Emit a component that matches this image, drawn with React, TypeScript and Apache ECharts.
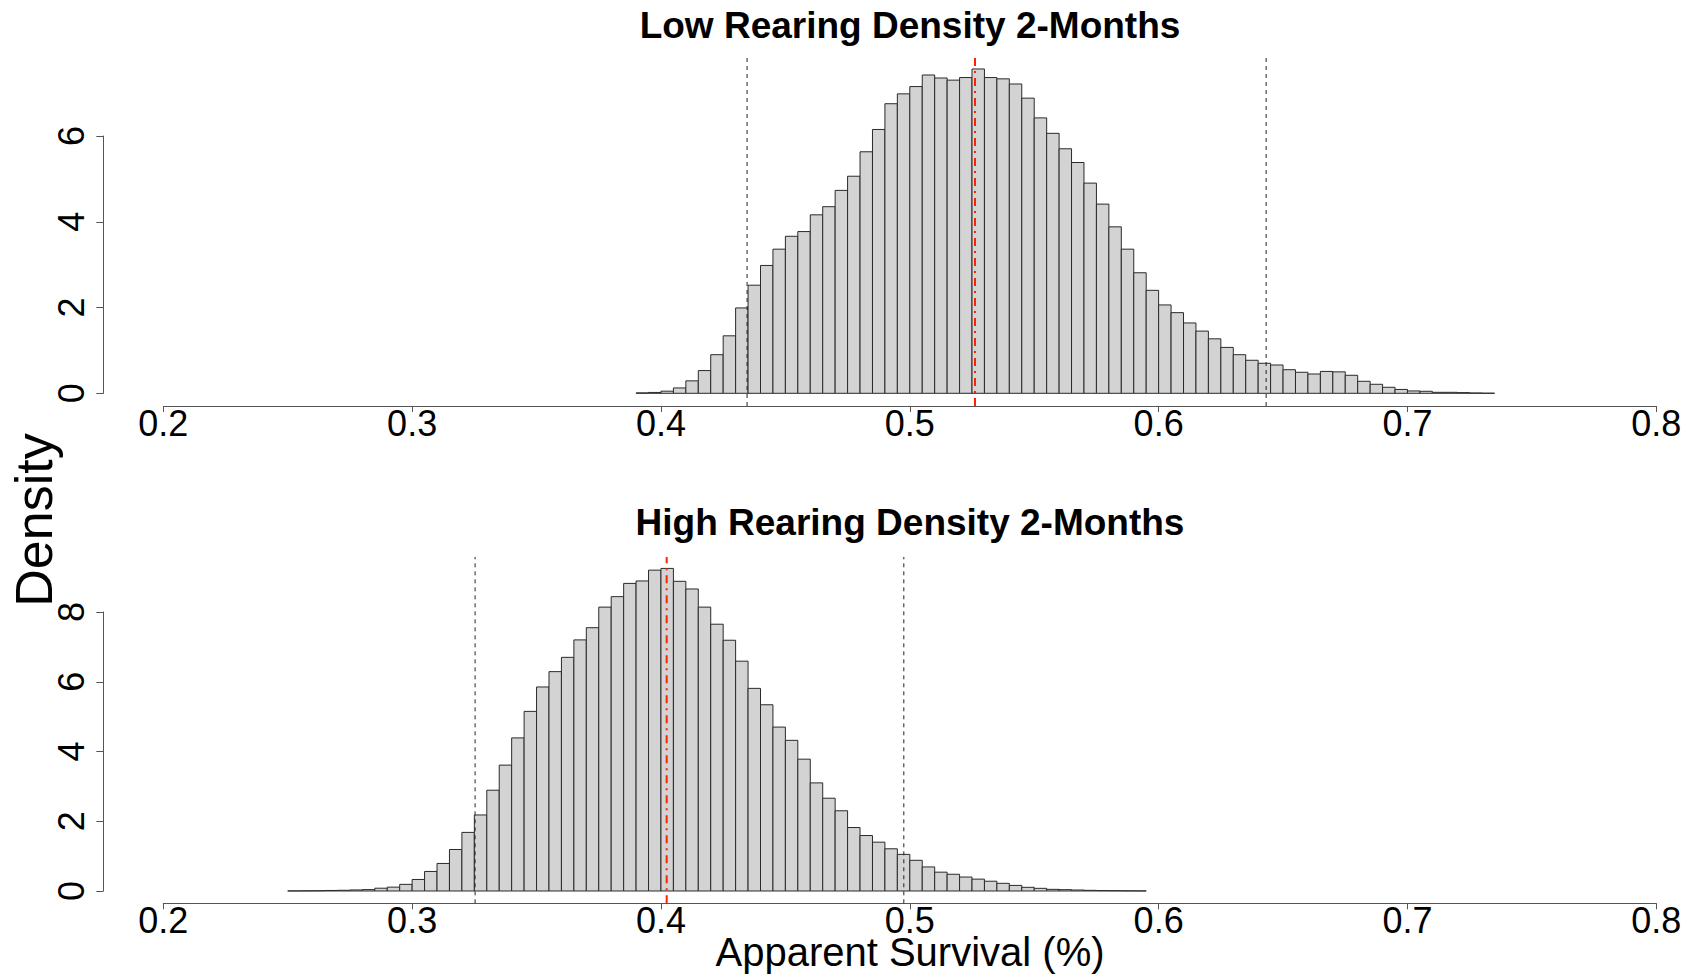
import React, { useEffect, useRef } from "react";
import * as echarts from "echarts";

// ---- data ----
const binWidth = 0.005;
const lowBinStart = 0.39;
const highBinStart = 0.25;

const lowDensity = [
  0.01, 0.02, 0.05, 0.125, 0.29, 0.53, 0.9, 1.34, 1.99, 2.52,
  2.98, 3.36, 3.66, 3.77, 4.16, 4.35, 4.73, 5.06, 5.63, 6.15,
  6.75, 6.98, 7.15, 7.42, 7.35, 7.3, 7.36, 7.56, 7.36, 7.33,
  7.21, 6.88, 6.42, 6.06, 5.7, 5.38, 4.9, 4.41, 3.88, 3.36,
  2.81, 2.4, 2.06, 1.88, 1.64, 1.45, 1.27, 1.07, 0.9, 0.77,
  0.7, 0.66, 0.55, 0.49, 0.45, 0.51, 0.5, 0.42, 0.28, 0.21,
  0.14, 0.09, 0.055, 0.047, 0.023, 0.023, 0.016, 0.008, 0.003,
];

const highDensity = [
  0.003, 0.005, 0.008, 0.015, 0.02, 0.03, 0.04, 0.08, 0.11, 0.19,
  0.33, 0.56, 0.79, 1.19, 1.68, 2.18, 2.89, 3.61, 4.39, 5.15,
  5.85, 6.29, 6.7, 7.2, 7.55, 8.14, 8.44, 8.82, 8.89, 9.2,
  9.25, 8.88, 8.66, 8.14, 7.65, 7.19, 6.59, 5.81, 5.34, 4.7,
  4.32, 3.78, 3.1, 2.66, 2.3, 1.82, 1.59, 1.4, 1.21, 1.05,
  0.88, 0.69, 0.54, 0.48, 0.4, 0.34, 0.28, 0.22, 0.16, 0.105,
  0.076, 0.047, 0.038, 0.028, 0.019, 0.012, 0.009, 0.005, 0.003,
];

// credible interval bounds and median
const lowLines = { lower: 0.4346, median: 0.5262, upper: 0.6432 };
const highLines = { lower: 0.3253, median: 0.4023, upper: 0.4976 };

const xTickValues = [0.2, 0.3, 0.4, 0.5, 0.6, 0.7, 0.8];
const lowYTicks = [0, 2, 4, 6];
const highYTicks = [0, 2, 4, 6, 8];

const titles = ["Low Rearing Density 2-Months", "High Rearing Density 2-Months"];
const xLabel = "Apparent Survival (%)";
const yLabel = "Density";

const FONT = "'Liberation Sans', Arial, Helvetica, sans-serif";

// plot-region value ranges (R-style 4% extension)
const lowYRange = [-0.296, 7.816];
const highYRange = [-0.353, 9.58];

function toBins(start: number, values: number[]) {
  return values.map((v, i) => [start + i * binWidth, start + (i + 1) * binWidth, v]);
}

export default function App() {
  const ref = useRef<HTMLDivElement>(null);

  useEffect(() => {
    if (!ref.current) return;
    const chart = echarts.init(ref.current, null, { renderer: "svg" });

    const axisColor = "#555";

    const renderBar = (params: any, api: any) => {
      const x0 = api.value(0);
      const x1 = api.value(1);
      const h = api.value(2);
      const p0 = api.coord([x0, h]);
      const p1 = api.coord([x1, 0]);
      return {
        type: "rect",
        shape: { x: p0[0], y: p0[1], width: p1[0] - p0[0], height: p1[1] - p0[1] },
        style: { fill: "#d3d3d3", stroke: "#2a2a2a", lineWidth: 1 },
      };
    };

    const vLineSeries = (
      l: { lower: number; median: number; upper: number },
      axisIndex: number,
      yr: number[]
    ) => {
      const mk = (x: number, color: string, width: number, type: any) => ({
        type: "line",
        xAxisIndex: axisIndex,
        yAxisIndex: axisIndex,
        data: [
          [x, yr[0]],
          [x, yr[1]],
        ],
        symbol: "none",
        silent: true,
        z: 5,
        lineStyle: { color, width, type },
      });
      return [
        mk(l.lower, "#222", 1, [4, 4]),
        mk(l.upper, "#222", 1, [4, 4]),
        mk(l.median, "#ff2200", 2, [8, 5, 2, 5]),
      ];
    };

    const dataXAxis = (gridIndex: number) => ({
      type: "value",
      gridIndex,
      min: 0.2,
      max: 0.8,
      interval: 0.1,
      splitLine: { show: false },
      axisLine: { show: true, onZero: false, lineStyle: { color: axisColor, width: 1 } },
      axisTick: { show: true, length: 6, lineStyle: { color: axisColor, width: 1 } },
      axisLabel: {
        show: true,
        color: "#000",
        fontSize: 36,
        fontFamily: FONT,
        margin: -1,
        formatter: (v: number) => {
          const t = xTickValues.find((x) => Math.abs(x - v) < 1e-6);
          return t !== undefined ? t.toFixed(1) : "";
        },
      },
    });

    const hiddenX = (gridIndex: number) => ({
      type: "value",
      gridIndex,
      min: 0,
      max: 1,
      show: false,
    });

    const tickYAxis = (gridIndex: number, ticks: number[]) => ({
      type: "value",
      gridIndex,
      min: ticks[0],
      max: ticks[ticks.length - 1],
      interval: ticks[1] - ticks[0],
      splitLine: { show: false },
      axisLine: { show: true, lineStyle: { color: axisColor, width: 1 } },
      axisTick: { show: true, length: 7, lineStyle: { color: axisColor, width: 1 } },
      axisLabel: {
        show: true,
        rotate: 90,
        color: "#000",
        fontSize: 36,
        fontFamily: FONT,
        margin: 14,
      },
    });

    const option: any = {
      animation: false,
      backgroundColor: "#fff",
      grid: [
        { left: 163.3, width: 1493, top: 58, height: 348, containLabel: false },
        { left: 103.3, width: 10, top: 136, height: 257.3, containLabel: false },
        { left: 163.3, width: 1493, top: 556.9, height: 346.4, containLabel: false },
        { left: 103.3, width: 10, top: 612, height: 279, containLabel: false },
      ],
      xAxis: [dataXAxis(0), hiddenX(1), dataXAxis(2), hiddenX(3)],
      yAxis: [
        { type: "value", gridIndex: 0, min: lowYRange[0], max: lowYRange[1], show: false },
        tickYAxis(1, lowYTicks),
        { type: "value", gridIndex: 2, min: highYRange[0], max: highYRange[1], show: false },
        tickYAxis(3, highYTicks),
      ],
      series: [
        {
          type: "custom",
          name: titles[0],
          xAxisIndex: 0,
          yAxisIndex: 0,
          renderItem: renderBar,
          encode: { x: [0, 1], y: 2 },
          data: toBins(lowBinStart, lowDensity),
          silent: true,
        },
        {
          type: "custom",
          name: titles[1],
          xAxisIndex: 2,
          yAxisIndex: 2,
          renderItem: renderBar,
          encode: { x: [0, 1], y: 2 },
          data: toBins(highBinStart, highDensity),
          silent: true,
        },
        ...vLineSeries(lowLines, 0, lowYRange),
        ...vLineSeries(highLines, 2, highYRange),
      ],
      graphic: [
        {
          type: "text",
          x: 910,
          y: 25.5,
          style: {
            text: titles[0],
            fontSize: 37,
            fontWeight: "bold",
            fontFamily: FONT,
            fill: "#000",
            textAlign: "center",
            textVerticalAlign: "middle",
          },
        },
        {
          type: "text",
          x: 910,
          y: 522.5,
          style: {
            text: titles[1],
            fontSize: 37,
            fontWeight: "bold",
            fontFamily: FONT,
            fill: "#000",
            textAlign: "center",
            textVerticalAlign: "middle",
          },
        },
        {
          type: "text",
          x: 34,
          y: 520,
          rotation: Math.PI / 2,
          style: {
            text: yLabel,
            fontSize: 52,
            fontFamily: FONT,
            fill: "#000",
            textAlign: "center",
            textVerticalAlign: "middle",
          },
        },
        {
          type: "text",
          x: 910,
          y: 952,
          style: {
            text: xLabel,
            fontSize: 40,
            fontFamily: FONT,
            fill: "#000",
            textAlign: "center",
            textVerticalAlign: "middle",
          },
        },
      ],
    };

    chart.setOption(option);
    return () => chart.dispose();
  }, []);

  return (
    <div
      ref={ref}
      style={{ position: "absolute", left: 0, top: 0, width: 1700, height: 979, background: "#fff" }}
    />
  );
}
